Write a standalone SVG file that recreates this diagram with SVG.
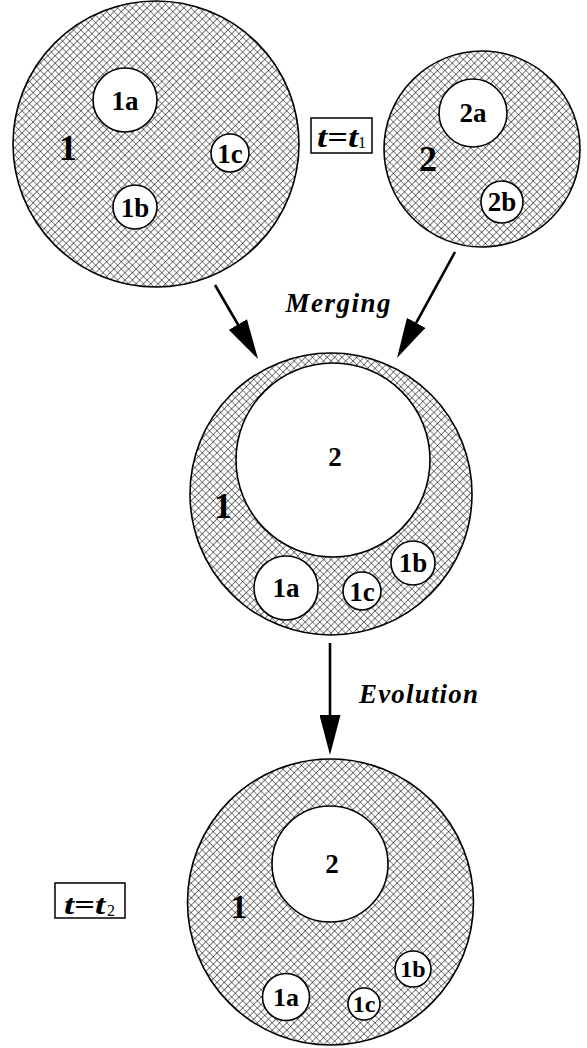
<svg xmlns="http://www.w3.org/2000/svg" width="587" height="1048" viewBox="0 0 587 1048">
<defs>
<pattern id="hatch" patternUnits="userSpaceOnUse" width="5.2" height="5.2" patternTransform="rotate(45)">
<rect width="5.2" height="5.2" fill="#fff"/>
<path d="M0,0 H5.2 M0,0 V5.2" stroke="#000" stroke-width="1" fill="none"/>
</pattern>
<marker id="arr" markerUnits="userSpaceOnUse" markerWidth="40" markerHeight="21" refX="30" refY="10.5" orient="auto">
<path d="M0,0 L40,10.5 L0,21 z" fill="#000"/>
</marker>
<style>
.cell{fill:url(#hatch);stroke:#000;stroke-width:1.6}
.hole{fill:#fff;stroke:#000;stroke-width:1.6}
.lab{font-family:"Liberation Serif","Times New Roman",serif;font-weight:bold;fill:#000;text-anchor:middle}
.big{font-size:36px}
.mid{font-size:27px}
.sm{font-size:27px}
.it{font-family:"Liberation Serif","Times New Roman",serif;font-weight:bold;font-style:italic;fill:#000}
.sub{font-family:"Liberation Serif","Times New Roman",serif;fill:#000}
.box{fill:#fff;stroke:#000;stroke-width:1.5}
.con{stroke:#000;stroke-width:2.6;fill:none;marker-end:url(#arr)}
</style>
</defs>
<rect width="587" height="1048" fill="#fff"/>

<g id="connectors">
<path class="con" d="M215,285 L253,350.4"/>
<path class="con" d="M455,252 L401.8,349.2"/>
<path class="con" d="M330,643 L330,745"/>
<text class="it" x="338" y="312" font-size="27" text-anchor="middle" textLength="105" lengthAdjust="spacing">Merging</text>
<text class="it" x="359" y="703" font-size="27" textLength="119" lengthAdjust="spacing">Evolution</text>
</g>

<g id="cell1-t1">
<circle class="cell" cx="156" cy="144" r="143"/>
<text class="lab big" x="68" y="160">1</text>
<g id="cell1a-t1"><circle class="hole" cx="125" cy="100" r="32"/><text class="lab sm" x="125" y="110">1a</text></g>
<g id="cell1c-t1"><circle class="hole" cx="230" cy="153" r="19"/><text class="lab sm" x="230" y="163">1c</text></g>
<g id="cell1b-t1"><circle class="hole" cx="135" cy="207" r="22"/><text class="lab sm" x="135" y="217">1b</text></g>
</g>

<g id="label-t1">
<rect class="box" x="311" y="118" width="61" height="35"/>
<text class="it" x="317" y="147" font-size="30" textLength="41" lengthAdjust="spacingAndGlyphs">t=t</text>
<text class="sub" x="358" y="148" font-size="16">1</text>
</g>

<g id="cell2-t1">
<circle class="cell" cx="482" cy="149" r="98"/>
<text class="lab big" x="428" y="171">2</text>
<g id="cell2a-t1"><circle class="hole" cx="473" cy="113" r="34"/><text class="lab sm" x="473" y="122">2a</text></g>
<g id="cell2b-t1"><circle class="hole" cx="502" cy="202" r="21"/><text class="lab sm" x="502" y="211">2b</text></g>
</g>

<g id="cell1-merged">
<circle class="cell" cx="331" cy="494" r="141"/>
<text class="lab big" x="223" y="518">1</text>
<g id="cell2-merged"><circle class="hole" cx="333" cy="460" r="97"/><text class="lab mid" x="335" y="466">2</text></g>
<g id="cell1a-merged"><circle class="hole" cx="286" cy="588" r="32"/><text class="lab sm" x="286" y="597">1a</text></g>
<g id="cell1c-merged"><circle class="hole" cx="362" cy="591" r="19"/><text class="lab sm" x="362" y="601">1c</text></g>
<g id="cell1b-merged"><circle class="hole" cx="413" cy="563" r="22"/><text class="lab sm" x="413" y="572">1b</text></g>
</g>

<g id="cell1-t2">
<circle class="cell" cx="330.5" cy="902" r="143"/>
<text class="lab" x="239" y="918" font-size="33">1</text>
<g id="cell2-t2"><circle class="hole" cx="330" cy="864" r="58"/><text class="lab mid" x="332" y="873">2</text></g>
<g id="cell1a-t2"><circle class="hole" cx="286" cy="997" r="23.5"/><text class="lab" x="286" y="1006" font-size="26">1a</text></g>
<g id="cell1c-t2"><circle class="hole" cx="364" cy="1004" r="16"/><text class="lab" x="364" y="1012" font-size="24">1c</text></g>
<g id="cell1b-t2"><circle class="hole" cx="413" cy="969" r="18"/><text class="lab" x="413" y="977" font-size="24">1b</text></g>
</g>

<g id="label-t2">
<rect class="box" x="55" y="883" width="70" height="35"/>
<text class="it" x="64" y="914" font-size="28" textLength="41" lengthAdjust="spacingAndGlyphs">t=t</text>
<text class="sub" x="107" y="916" font-size="16">2</text>
</g>
</svg>
